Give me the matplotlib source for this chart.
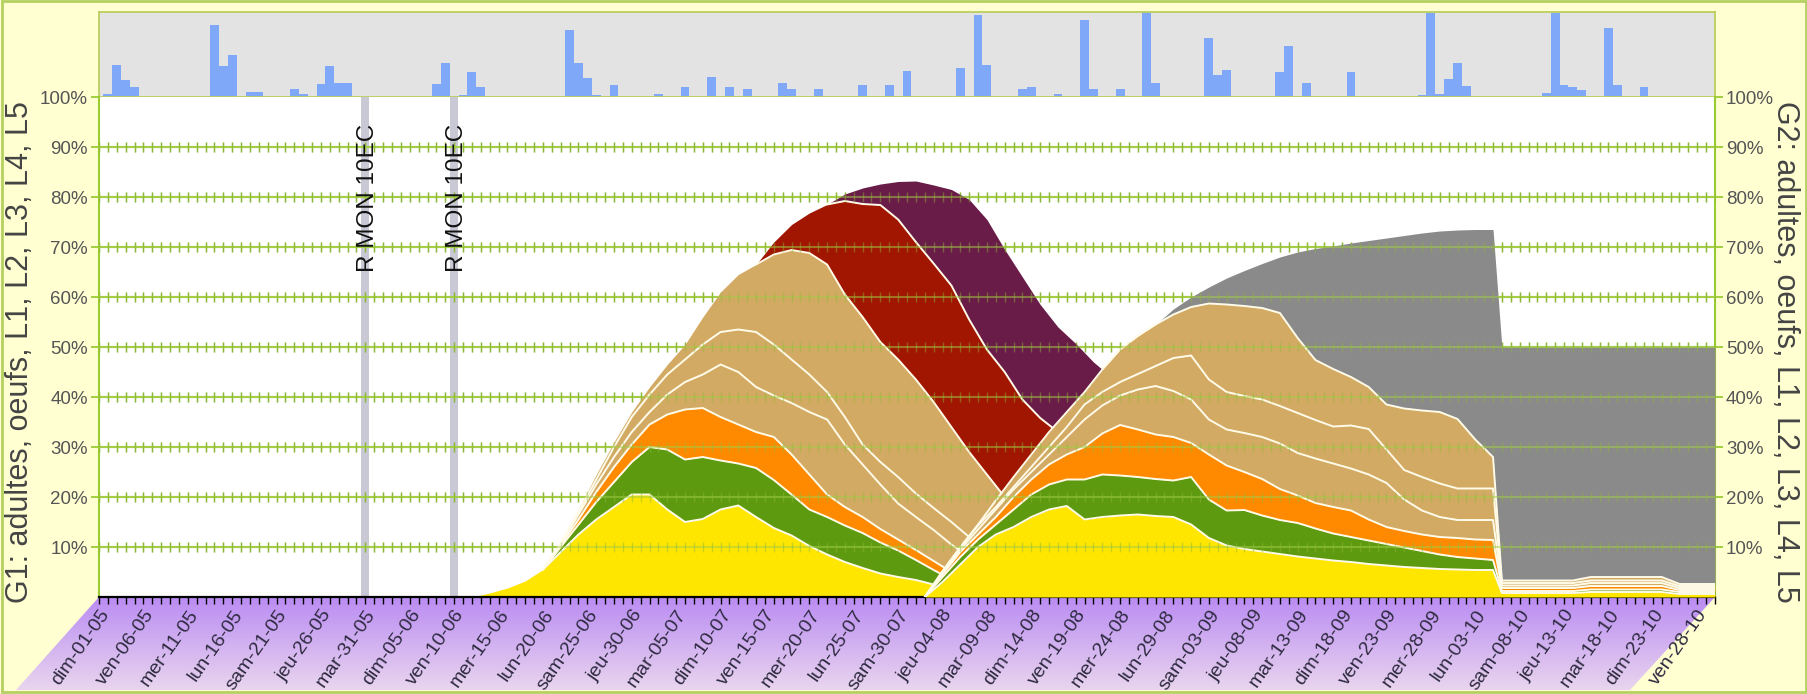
# Generations G1 / G2 - stades cumules + pluie

import numpy as np
import matplotlib.pyplot as plt
from matplotlib.patches import Polygon, Rectangle

plt.rcParams['font.family'] = ['Liberation Sans', 'DejaVu Sans']

# Pluie (barres du bandeau du haut), jour 0 = dim 01-05
pluie_jours = [1, 2, 3, 4, 13, 14, 15, 17, 18, 22, 23, 25, 26, 27, 28, 38, 39, 41, 42, 43,
               53, 54, 55, 56, 58, 63, 66, 69, 71, 73, 77, 78, 81, 86, 89, 91, 97, 99, 100,
               104, 105, 108, 111, 112, 115, 118, 119, 125, 126, 127, 133, 134, 136, 141,
               149, 150, 151, 152, 153, 154, 163, 164, 165, 166, 167, 170, 171, 174]
pluie = [0.03, 0.38, 0.2, 0.12, 0.85, 0.36, 0.5, 0.06, 0.06, 0.09, 0.04, 0.15, 0.37, 0.16, 0.16,
         0.15, 0.4, 0.02, 0.3, 0.12, 0.79, 0.4, 0.22, 0.02, 0.14, 0.04, 0.12, 0.24, 0.12, 0.1,
         0.17, 0.1, 0.1, 0.14, 0.14, 0.31, 0.34, 0.97, 0.38, 0.09, 0.12, 0.04, 0.91, 0.1, 0.09,
         1.0, 0.16, 0.69, 0.26, 0.32, 0.29, 0.6, 0.16, 0.29, 0.02, 0.99, 0.03, 0.21, 0.4, 0.13,
         0.05, 0.99, 0.14, 0.12, 0.08, 0.81, 0.14, 0.12]

# Traitements
traitements_jours = [30, 40]
traitements_noms = ['R MON 10EC', 'R MON 10EC']

# G1 : niveaux cumules (%) du bas vers le haut
g1_jours = [42, 44, 46, 48, 50, 52, 54, 56, 58, 60, 62, 64, 66, 68, 70, 72, 74, 76, 78, 80,
            82, 84, 86, 88, 90, 92, 94, 96, 98, 100, 102, 104, 106, 108, 110, 112, 114]
g1_jaune = [0, 0.8, 1.8, 3.2, 5.5, 9, 12.5, 15.5, 18, 20.5, 20.5, 17.5, 15, 15.6, 17.5, 18.3,
            16, 13.8, 12.3, 10.2, 8.5, 7, 5.8, 4.7, 4, 3.4, 2.5, 1.5, 0.5, 0, 0, 0, 0, 0, 0, 0, 0]
g1_vert = [0, 0.8, 1.8, 3.2, 5.5, 10, 14.5, 19, 23, 27, 30, 29.5, 27.5, 28, 27.3, 26.7, 25.8,
           23.4, 20.5, 17.5, 16, 14.3, 12.8, 10.9, 9.3, 7.4, 5.4, 3.5, 2, 0.8, 0, 0, 0, 0, 0, 0, 0]
g1_orange = [0, 0.8, 1.8, 3.2, 5.5, 10.3, 15.5, 21, 26, 30.5, 34.5, 36.5, 37.5, 37.8, 36, 34.5,
             33, 32, 28.5, 24.5, 20.5, 18, 16, 13.6, 11.5, 9.4, 7.2, 5, 3, 1.5, 0.5, 0, 0, 0, 0, 0, 0]
g1_tan1 = [0, 0.8, 1.8, 3.2, 5.5, 10.5, 16.5, 22.5, 28, 33, 37, 40.5, 43, 44.5, 46.5, 45, 42,
           40.3, 38.8, 37, 35.5, 30.5, 26.5, 22.5, 18.7, 16, 13.4, 10.5, 8, 5.5, 3.5, 2, 1, 0.5, 0, 0, 0]
g1_tan2 = [0, 0.8, 1.8, 3.2, 5.5, 10.7, 17, 23.5, 30, 36, 40.5, 44.5, 47.5, 50.5, 53, 53.5, 53,
           50.5, 47.5, 44.5, 41, 36, 30.5, 27, 24, 20.7, 17.8, 15, 12, 9.5, 7, 5, 3.5, 2.5, 1.5, 1, 0.5]
g1_tan3 = [0, 0.8, 1.8, 3.2, 5.5, 11, 17.5, 24.5, 31, 37, 42, 46.5, 50.5, 56, 61, 64.5, 66.5,
           68.5, 69.4, 68.8, 66.5, 60.5, 56, 51, 47.5, 43.5, 39, 34, 29, 24.5, 20, 16.5, 13.5, 11, 9, 7, 5.5]
g1_rouge = [0, 0.8, 1.8, 3.2, 5.5, 11, 17.5, 24.5, 31, 37, 42, 46.5, 50.5, 56, 61, 64.5, 66.5,
            71, 74.5, 76.8, 78.5, 79.2, 78.6, 78.4, 75.5, 71, 66.7, 62.3, 55.5, 49.5, 45, 39.5,
            35.8, 33, 30, 27, 25]
g1_violet = [0, 0.8, 1.8, 3.2, 5.5, 11, 17.5, 24.5, 31, 37, 42, 46.5, 50.5, 56, 61, 64.5, 66.5,
             71, 74.5, 76.8, 78.5, 80.6, 81.8, 82.6, 83.1, 83.2, 82.4, 81.5, 79.5, 75.5, 69.5, 64,
             58.5, 54, 50.7, 47, 44]

# G2 : niveaux cumules (%)
g2_jours = [93, 95, 97, 99, 101, 103, 105, 107, 109, 111, 113, 115, 117, 119, 121, 123, 125, 127,
            129, 131, 133, 135, 137, 139, 141, 143, 145, 147, 149, 151, 153, 155, 157, 158, 160,
            162, 164, 166, 168, 170, 172, 174, 176, 178, 180, 182]
g2_jaune = [0, 3, 6.5, 10, 12.5, 14, 16, 17.5, 18.2, 15.5, 16, 16.3, 16.5, 16.2, 16, 14.5, 11.8,
            10.3, 9.6, 9.1, 8.6, 8.1, 7.7, 7.3, 7, 6.6, 6.3, 6, 5.8, 5.6, 5.5, 5.4, 5.4, 0.8, 0.8,
            0.8, 0.8, 0.8, 1, 1, 1, 1, 1, 0.6, 0.6, 0.6]
g2_vert = [0, 4, 8, 11.5, 14.5, 17.5, 20.5, 22.5, 23.5, 23.5, 24.5, 24.3, 24, 23.6, 23.3, 24, 19.5,
           17.3, 17.4, 16.3, 15.4, 14.8, 13.7, 12.7, 12, 11.3, 10.6, 9.9, 9.2, 8.5, 8, 7.7, 7.4,
           1.2, 1.2, 1.2, 1.2, 1.2, 1.5, 1.5, 1.5, 1.5, 1.5, 1, 1, 1]
g2_orange = [0, 4.5, 9, 12.5, 16, 20, 23.5, 26.5, 28.5, 30, 32.7, 34.4, 33.5, 32.5, 32, 30.8, 28.5,
             26.3, 25, 23.6, 21.6, 20.3, 18.8, 18, 17.3, 15.5, 14, 13.2, 12.5, 12, 11.8, 11.5, 11.4,
             1.8, 1.8, 1.8, 1.8, 1.8, 2.2, 2.2, 2.2, 2.2, 2.2, 1.4, 1.4, 1.4]
g2_tan1 = [0, 4.8, 9.5, 13.5, 17.5, 21.5, 25, 28.5, 32, 35.5, 38.3, 40.3, 41.5, 42.2, 41.2, 39.5,
           35.5, 33.5, 32.8, 32, 30.7, 28.8, 27.7, 26.7, 25.7, 24.5, 22.8, 19.5, 17.3, 16, 15.4,
           15.4, 15.4, 2.3, 2.3, 2.3, 2.3, 2.3, 2.8, 2.8, 2.8, 2.8, 2.8, 1.8, 1.8, 1.8]
g2_tan2 = [0, 5, 9.8, 14.3, 18, 22, 26, 30, 34, 38.5, 41, 43, 44.6, 46.2, 47.8, 48.3, 43.5, 41,
           40.2, 39.5, 38.2, 36.8, 35.4, 34.1, 34.3, 33.6, 29.5, 25.4, 24, 22.7, 21.7, 21.7, 21.7,
           2.8, 2.8, 2.8, 2.8, 2.8, 3.3, 3.3, 3.3, 3.3, 3.3, 2.2, 2.2, 2.2]
g2_tan3 = [0, 5.2, 10, 14.5, 19.3, 24, 28.5, 33, 37, 41, 45.5, 49.5, 52.2, 54.5, 56.5, 58, 58.7,
           58.5, 58.2, 57.8, 56.8, 51.8, 47.4, 45.6, 44, 42, 38.5, 37.7, 37.3, 37, 35.6, 31.5, 28,
           3.3, 3.3, 3.3, 3.3, 3.3, 4, 4, 4, 4, 4, 2.6, 2.6, 2.6]
g2_gris = [0, 5.2, 10, 14.5, 19.3, 24, 28.5, 33, 37, 41, 45.5, 49.5, 52.2, 54.5, 57.6, 60, 62,
           63.8, 65.3, 66.7, 68, 69, 69.7, 70.2, 70.8, 71.3, 71.8, 72.3, 72.8, 73.2, 73.4, 73.5,
           73.5, 50, 50, 50, 50, 50, 50, 50, 50, 50, 50, 50, 50, 50]

# Axe des dates (un label tous les 5 jours)
etiquettes_x = ['dim-01-05', 'ven-06-05', 'mer-11-05', 'lun-16-05', 'sam-21-05', 'jeu-26-05',
                'mar-31-05', 'dim-05-06', 'ven-10-06', 'mer-15-06', 'lun-20-06', 'sam-25-06',
                'jeu-30-06', 'mar-05-07', 'dim-10-07', 'ven-15-07', 'mer-20-07', 'lun-25-07',
                'sam-30-07', 'jeu-04-08', 'mar-09-08', 'dim-14-08', 'ven-19-08', 'mer-24-08',
                'lun-29-08', 'sam-03-09', 'jeu-08-09', 'mar-13-09', 'dim-18-09', 'ven-23-09',
                'mer-28-09', 'lun-03-10', 'sam-08-10', 'jeu-13-10', 'mar-18-10', 'dim-23-10',
                'ven-28-10']
etiquettes_y = ['10%', '20%', '30%', '40%', '50%', '60%', '70%', '80%', '90%', '100%']

# couleurs
jaune, vert, orange, tan = '#FFE600', '#5E9A10', '#FF8A00', '#D3AA63'
rouge, violet, gris = '#A01600', '#6A1C48', '#8A8A8A'
blanc = '#FFFBE8'
vert_grille = '#A3CE45'

W, H = 1808, 694
X_FIN = 182


def boite(x0, y0, x1, y1):
    # pixels (origine en haut a gauche) -> fraction de figure
    return [x0 / W, 1 - y1 / H, (x1 - x0) / W, (y1 - y0) / H]


fig = plt.figure(figsize=(W / 100, H / 100), dpi=100, facecolor='#FFFFD2')

# fond : bande violette sous l'axe des dates + cadre
ax_bg = fig.add_axes([0, 0, 1, 1], zorder=0)
bande = Polygon([(99, 597), (1715, 597), (1630, 690), (16, 690)], closed=True,
                facecolor='none', edgecolor='none')
ax_bg.add_patch(bande)
t = np.linspace(0, 1, 120)[:, None, None]
haut_c = np.array([186, 140, 243]) / 255
bas_c = np.array([233, 213, 238]) / 255
degrade = haut_c * (1 - t) + bas_c * t
im = ax_bg.imshow(degrade, extent=[0, W, 690, 597], aspect='auto')
im.set_clip_path(bande)
ax_bg.add_patch(Rectangle((2, 1), W - 4, H - 3, fill=False, edgecolor='#B4D060', lw=2))
ax_bg.set_xlim(0, W)
ax_bg.set_ylim(H, 0)
ax_bg.axis('off')

# bandeau pluie
ax_top = fig.add_axes(boite(99, 12, 1715, 97), zorder=2)
ax_top.set_facecolor('#E3E3E3')
ax_top.bar(pluie_jours, pluie, width=1.0, color='#80A8F8', lw=0)
ax_top.set_xlim(0, X_FIN)
ax_top.set_ylim(0, 1)
ax_top.set_xticks([])
ax_top.set_yticks([])
for s in ax_top.spines.values():
    s.set_color('#BCCF5E')
    s.set_linewidth(1.3)

# graphique principal
ax = fig.add_axes(boite(99, 97, 1715, 597), zorder=2)
ax.set_facecolor('white')
ax.set_xlim(0, X_FIN)
ax.set_ylim(0, 100)

jours_axe = np.arange(0, X_FIN + 1)
for niv in range(10, 100, 10):
    ax.axhline(niv, color=vert_grille, lw=1.5, zorder=1.5)
    ax.plot(jours_axe, np.full(jours_axe.size, niv), ls='none', marker='|', ms=7, mew=1,
            color='#8DB83A', zorder=1.5)
    ax.axhline(niv, color=vert_grille, lw=1.5, alpha=0.5, zorder=5)
    ax.plot(jours_axe, np.full(jours_axe.size, niv), ls='none', marker='|', ms=7, mew=1,
            color='#8DB83A', alpha=0.45, zorder=5)

for d, nom in zip(traitements_jours, traitements_noms):
    ax.axvspan(d - 0.45, d + 0.45, color='#C9C9D6', lw=0, zorder=1)
    ax.text(d + 0.35, 65, nom, rotation=90, ha='center', va='bottom', fontsize=17.5,
            color='#111111', zorder=6)


def trait(x, y, env, z, masque=True):
    y = np.asarray(y, float)
    env = np.asarray(env, float)
    if masque:
        vis = env - y > 0.05
        vis = vis | np.roll(vis, 1) | np.roll(vis, -1)
        y = np.where(vis, y, np.nan)
    ax.plot(x, y, color=blanc, lw=1.4, zorder=z, solid_capstyle='round')


# G1
g1_couches = [g1_jaune, g1_vert, g1_orange, g1_tan1, g1_tan2, g1_tan3, g1_rouge, g1_violet]
g1_couleurs = [jaune, vert, orange, tan, tan, tan, rouge, violet]
bas = np.zeros(len(g1_jours))
for h, c in zip(g1_couches, g1_couleurs):
    ax.fill_between(g1_jours, bas, h, color=c, lw=0, zorder=2)
    bas = h
for h in g1_couches[:-1]:
    trait(g1_jours, h, g1_violet, 2.5)

# G2 (par-dessus G1)
g2_couches = [g2_jaune, g2_vert, g2_orange, g2_tan1, g2_tan2, g2_tan3, g2_gris]
g2_couleurs = [jaune, vert, orange, tan, tan, tan, gris]
bas = np.zeros(len(g2_jours))
for h, c in zip(g2_couches, g2_couleurs):
    ax.fill_between(g2_jours, bas, h, color=c, lw=0, zorder=3)
    bas = h
for h in g2_couches[:-1]:
    trait(g2_jours, h, g2_gris, 3.5, masque=False)

# axes
ax.set_yticks(range(10, 101, 10))
ax.set_yticklabels(etiquettes_y)
ax.tick_params(axis='y', left=True, right=True, labelleft=True, labelright=True,
               color='#99CC33', length=6, width=1.3, labelcolor='#555555', labelsize=13.5, pad=2)
ax.set_xticks(range(0, 181, 5))
ax.set_xticklabels(etiquettes_x)
ax.set_xticks(jours_axe, minor=True)
ax.tick_params(axis='x', which='both', length=5, width=1, color='black', direction='out', pad=2)
plt.setp(ax.get_xticklabels(), rotation=55, ha='right', va='top', rotation_mode='anchor',
         fontsize=14, color='#2E2A40')
ax.spines['top'].set_visible(False)
for cote in ['left', 'right']:
    ax.spines[cote].set_color('#99CC33')
    ax.spines[cote].set_linewidth(1.5)
ax.spines['bottom'].set_color('black')
ax.spines['bottom'].set_linewidth(1.6)

fig.text(20 / W, 1 - 352 / H, 'G1: adultes, oeufs, L1, L2, L3, L4, L5', rotation=90,
         ha='center', va='center', fontsize=22, color='#444444')
fig.text(1785 / W, 1 - 352 / H, 'G2: adultes, oeufs, L1, L2, L3, L4, L5', rotation=270,
         ha='center', va='center', fontsize=22, color='#444444')

plt.savefig('out.png', dpi=100, facecolor=fig.get_facecolor())
